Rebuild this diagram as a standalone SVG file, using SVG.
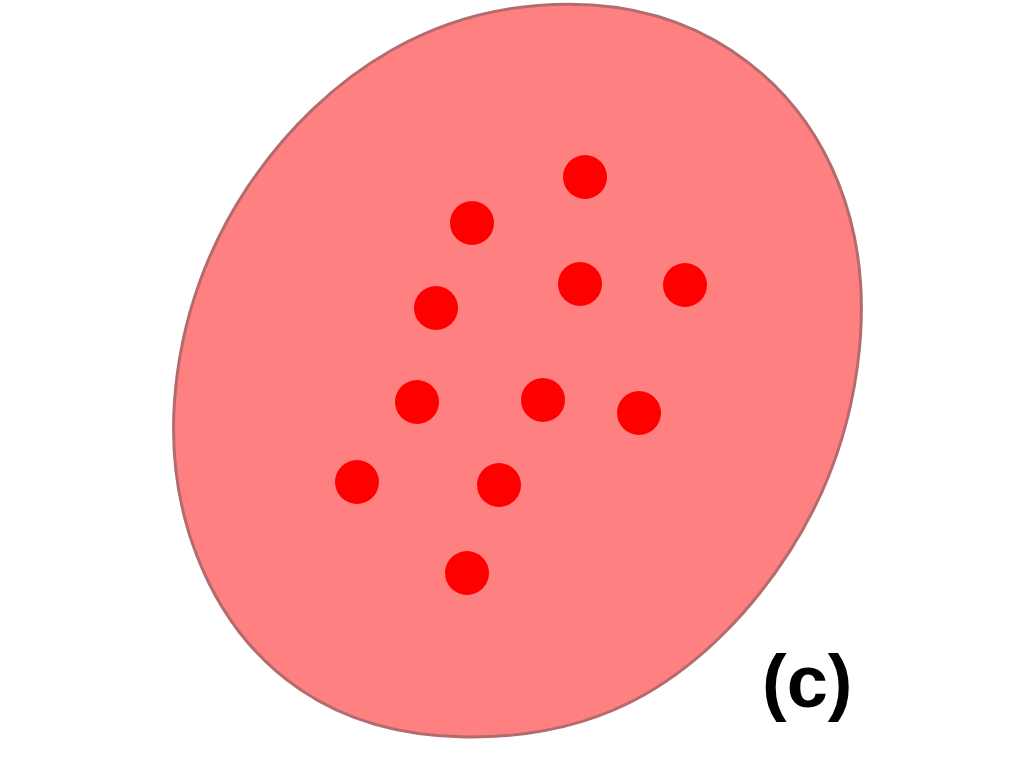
<svg xmlns="http://www.w3.org/2000/svg" width="1024" height="768" viewBox="0 0 1024 768">
<style>
.blob{fill:#FF8080;stroke:#B56B6E;stroke-width:3}
.dot{fill:#FF0000}
.lbl{font-family:"Liberation Sans",Arial,sans-serif;font-weight:bold;font-size:74px;fill:#000}
</style>
<rect width="1024" height="768" fill="#fff"/>
<g id="region">
<path class="blob" d="M789,552.4 C751.8,610 702.1,661.8 645.3,694.2 C588.5,726.6 525.5,737.8 465,737 C404.5,736.2 347.7,721.7 300.6,689.8 C253.5,657.9 218.3,610.8 196.7,555.1 C175.1,499.4 168.6,436.7 177.5,372.2 C186.4,307.7 210.1,243.7 247.6,187.2 C285.1,130.7 335,82.3 391.5,50.2 C448,18.1 509.7,4.1 569.4,4.2 C629.1,4.3 684.6,19.4 731.7,50.7 C778.8,82 816,127.2 838.1,182.4 C860.2,237.6 866.1,300.7 857.5,365.6 C848.9,430.5 826.2,494.8 789,552.4 Z"/>
</g>
<g id="points">
<circle class="dot" cx="585" cy="177" r="22"/>
<circle class="dot" cx="472" cy="223" r="22"/>
<circle class="dot" cx="580" cy="284" r="22"/>
<circle class="dot" cx="685" cy="285" r="22"/>
<circle class="dot" cx="436" cy="308" r="22"/>
<circle class="dot" cx="417" cy="402" r="22"/>
<circle class="dot" cx="543" cy="400" r="22"/>
<circle class="dot" cx="639" cy="413" r="22"/>
<circle class="dot" cx="357" cy="482" r="22"/>
<circle class="dot" cx="499" cy="485" r="22"/>
<circle class="dot" cx="467" cy="573" r="22"/>
</g>
<g id="label">
<text class="lbl" x="762" y="707">(c)</text>
</g>
</svg>
